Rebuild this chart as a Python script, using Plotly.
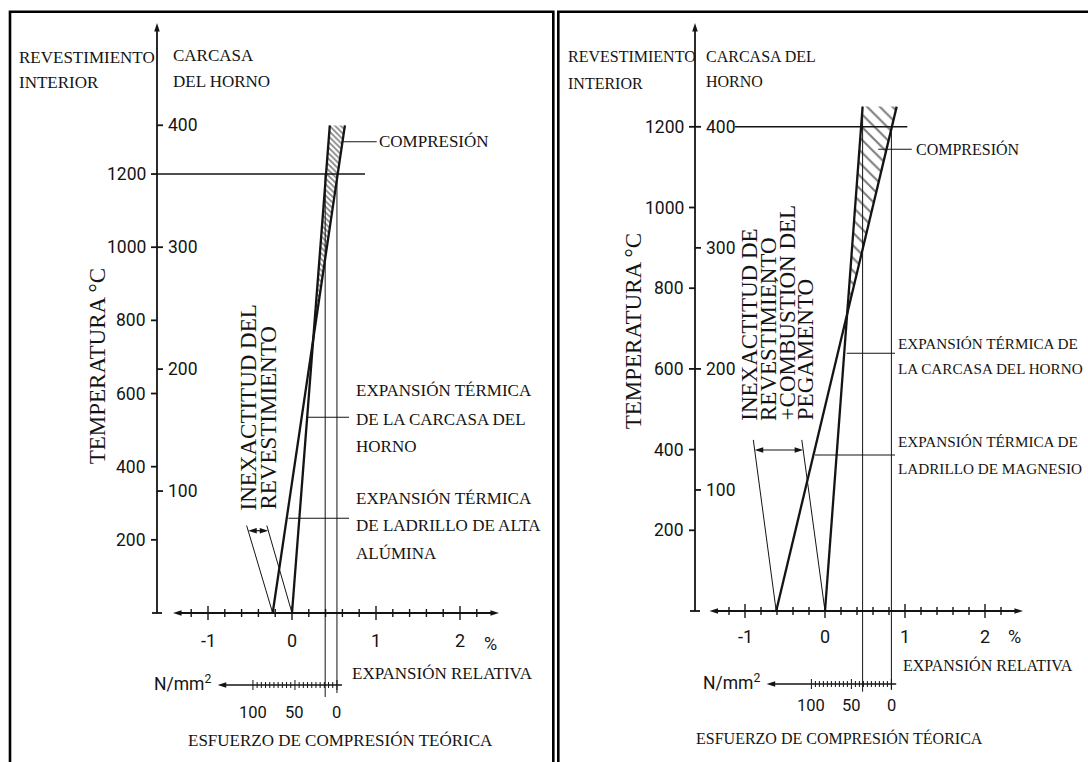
import plotly.graph_objects as go

FIG_W, FIG_H = 1088, 762
INK = "#141414"
SERIF = "Liberation Serif, Times New Roman, serif"
SANS = "Roboto, DejaVu Sans, sans-serif"

# ---------------- shared scales ----------------
EXP_TICKS = [-1, 0, 1, 2]
EXP_TICK_LABELS = ["-1", "0", "1", "2"]
EXP_MINOR = [-1.2, -0.8, -0.6, -0.4, -0.2, 0.2, 0.4, 0.6, 0.8, 1.2, 1.4, 1.6, 1.8, 2.2]
STRESS_TICKS = [100, 50, 0]
STRESS_TICK_LABELS = ["100", "50", "0"]
STRESS_MINOR = list(range(0, 101, 5))
STRESS_PER_PERCENT = 100          # N/mm² per 1 % of relative expansion

# ---------------- high-alumina lining (left) ----------------
A_LINING_TICKS = [200, 400, 600, 800, 1000, 1200]
A_SHELL_TICKS = [100, 200, 300, 400]
A_SHELL_SCALE = 10 / 3            # lining °C per shell °C on the common axis
A_OPERATING_T = 1200
A_TOP_T = 1333
A_SHELL_EXP = [0.0, 0.45]         # shell expansion at T = 0 and at A_TOP_T
A_BRICK_EXP = [-0.23, 0.63]       # brick expansion at T = 0 and at A_TOP_T
A_GAP_T = 239
A_GAP_EXP_TOP = [-0.54, -0.30]
A_GAP_ARROW_T = 225
A_VLINE_EXP = [0.395, 0.535]
A_VLINE_TOP = [1200, 1200]
A_STRESS_ZERO = 0.535

# ---------------- magnesia lining (right) ----------------
M_LINING_TICKS = [200, 400, 600, 800, 1000, 1200]
M_SHELL_TICKS = [100, 200, 300, 400]
M_SHELL_SCALE = 3
M_OPERATING_T = 1200
M_TOP_T = 1250
M_SHELL_EXP = [0.0, 0.47]
M_BRICK_EXP = [-0.61, 0.896]
M_GAP_T = 424
M_GAP_EXP_TOP = [-0.896, -0.29]
M_GAP_ARROW_T = 399
M_VLINE_EXP = [0.47, 0.83]
M_VLINE_TOP = [1250, 1200]
M_STRESS_ZERO = 0.83

PANELS = [
    dict(
        xa="x", ya="y", dom=(0.0, 0.5), x0px=292, kx=84, y0px=613, ky=0.3658,
        lining_ticks=A_LINING_TICKS, shell_ticks=A_SHELL_TICKS, shell_scale=A_SHELL_SCALE,
        op_T=A_OPERATING_T, top_T=A_TOP_T, shell=A_SHELL_EXP, brick=A_BRICK_EXP,
        gap_T=A_GAP_T, gap_top=A_GAP_EXP_TOP, gap_arrow_T=A_GAP_ARROW_T,
        vline=A_VLINE_EXP, vline_top=A_VLINE_TOP, stress_zero=A_STRESS_ZERO,
        axis_px=157, axis_top_px=23, exp_span_px=(173, 499), op_span_px=(157, 365),
        stress_px=685, stress_span=(142, -6), vline_bottom_px=(697, 693),
        tick_label_dy=27, stress_label_dy=27, hatch=4, hatch_solid=0.4, text_size=17,
        leaders=[(141.7, 341.7, 376.7), (417.3, 307.6, 349), (518.3, 288.5, 349)],
        texts=[
            ("REVESTIMIENTO", 18.3, 57.3, "left"), ("INTERIOR", 18.3, 82.5, "left"),
            ("CARCASA", 171.7, 55.5, "left"), ("DEL HORNO", 171.7, 81.7, "left"),
            ("COMPRESIÓN", 378, 141.7, "left"),
            ("EXPANSIÓN TÉRMICA", 354.5, 390, "left"),
            ("DE LA CARCASA DEL", 354.5, 419.3, "left"),
            ("HORNO", 354.5, 446.7, "left"),
            ("EXPANSIÓN TÉRMICA", 354.5, 498.3, "left"),
            ("DE LADRILLO DE ALTA", 354.5, 525, "left"),
            ("ALÚMINA", 354.5, 553.3, "left"),
            ("EXPANSIÓN RELATIVA", 351, 673.3, "left"),
            ("ESFUERZO DE COMPRESIÓN TEÓRICA", 340, 740, "center"),
        ],
        vtexts=[
            ("TEMPERATURA °C", 97.3, 366, "middle"),
            ("INEXACTITUD DEL", 247.5, 512, "bottom"),
            ("REVESTIMIENTO", 267.6, 511, "bottom"),
        ],
        pct=(490, 643),
    ),
    dict(
        xa="x2", ya="y2", dom=(0.5, 1.0), x0px=825, kx=80, y0px=611, ky=0.4035,
        lining_ticks=M_LINING_TICKS, shell_ticks=M_SHELL_TICKS, shell_scale=M_SHELL_SCALE,
        op_T=M_OPERATING_T, top_T=M_TOP_T, shell=M_SHELL_EXP, brick=M_BRICK_EXP,
        gap_T=M_GAP_T, gap_top=M_GAP_EXP_TOP, gap_arrow_T=M_GAP_ARROW_T,
        vline=M_VLINE_EXP, vline_top=M_VLINE_TOP, stress_zero=M_STRESS_ZERO,
        axis_px=695, axis_top_px=23, exp_span_px=(709.5, 1023), op_span_px=(735, 907.3),
        stress_px=684, stress_span=(156, -6), vline_bottom_px=(691.7, 690),
        tick_label_dy=25.7, stress_label_dy=21, hatch=9, hatch_solid=0.24, text_size=16,
        leaders=[(149.3, 878.3, 911.7), (353.3, 846.7, 895), (455, 815, 895)],
        texts=[
            ("REVESTIMIENTO", 566.7, 56.7, "left"), ("INTERIOR", 566.7, 83.3, "left"),
            ("CARCASA DEL", 705, 56.7, "left"), ("HORNO", 705, 81.7, "left"),
            ("COMPRESIÓN", 915, 149.3, "left"),
            ("EXPANSIÓN TÉRMICA DE", 896.7, 343.3, "left", 15.2),
            ("LA CARCASA DEL HORNO", 896.7, 368.3, "left", 15.2),
            ("EXPANSIÓN TÉRMICA DE", 896.7, 441.7, "left", 15.2),
            ("LADRILLO DE MAGNESIO", 896.7, 468.3, "left", 15.2),
            ("EXPANSIÓN RELATIVA", 901.6, 665, "left"),
            ("ESFUERZO DE COMPRESIÓN TÉORICA", 839, 738.3, "center"),
        ],
        vtexts=[
            ("TEMPERATURA °C", 633.3, 331, "middle"),
            ("INEXACTITUD DE", 750, 421.7, "bottom"),
            ("REVESTIMIENTO", 768.3, 421.7, "bottom"),
            ("+COMBUSTIÓN DEL", 786.7, 421.7, "bottom"),
            ("PEGAMENTO", 805, 421.7, "bottom"),
        ],
        pct=(1014, 636.7),
    ),
]

fig = go.Figure()


def px_x(g, px):
    return (px - g["x0px"]) / g["kx"]


def px_T(g, py):
    return (g["y0px"] - py) / g["ky"]


def add_line(g, xs, ys, width=1.0, color=INK):
    fig.add_trace(go.Scatter(x=xs, y=ys, mode="lines", line=dict(color=color, width=width),
                             xaxis=g["xa"], yaxis=g["ya"], hoverinfo="skip",
                             showlegend=False))


def add_heads(g, xs, ys, angles, size=9):
    # arrowheads drawn as markers whose tip sits on the given point
    fig.add_trace(go.Scatter(x=xs, y=ys, mode="markers",
                             marker=dict(symbol="arrow", size=size, angle=angles,
                                         color=INK, line=dict(width=0)),
                             xaxis=g["xa"], yaxis=g["ya"], hoverinfo="skip",
                             showlegend=False, cliponaxis=False))


def add_text(g, text, x, y, size, family, xanchor="left", yanchor="middle",
             angle=0, xshift=0, yshift=0):
    fig.add_annotation(x=x, y=y, xref=g["xa"], yref=g["ya"], text=text, showarrow=False,
                       xanchor=xanchor, yanchor=yanchor, textangle=angle,
                       xshift=xshift, yshift=yshift, borderpad=0,
                       font=dict(family=family, size=size, color=INK))


def interp(p0, p1, t0, t1, t):
    return p0 + (p1 - p0) * (t - t0) / (t1 - t0)


def build_panel(g):
    dx = 1.0 / g["kx"]
    dT = 1.0 / g["ky"]
    ax_x = px_x(g, g["axis_px"])
    top_T = g["top_T"]
    hx, hy, ha = [], [], []

    # compression wedge between brick and shell expansion lines
    s0, s1 = g["shell"]
    b0, b1 = g["brick"]
    t_cross = (s0 - b0) / ((b1 - b0) - (s1 - s0))
    x_cross = s0 + (s1 - s0) * t_cross
    fig.add_trace(go.Scatter(
        x=[x_cross, s1, b1, x_cross], y=[t_cross * top_T, top_T, top_T, t_cross * top_T],
        mode="lines", fill="toself", fillcolor="rgba(0,0,0,0)", line=dict(width=0),
        fillpattern=dict(shape="\\", size=g["hatch"], solidity=g["hatch_solid"],
                         fgcolor="#000000", bgcolor="rgba(0,0,0,0)"),
        xaxis=g["xa"], yaxis=g["ya"], hoverinfo="skip", showlegend=False))

    # temperature axis with both scales
    axis_top = px_T(g, g["axis_top_px"])
    add_line(g, [ax_x, ax_x], [0, axis_top - 4 * dT], width=1.8)
    hx.append(ax_x); hy.append(axis_top); ha.append(0)
    xs, ys = [], []
    for t in g["lining_ticks"]:
        xs += [ax_x - 6 * dx, ax_x, None]
        ys += [t, t, None]
    xs += [ax_x - 5 * dx, ax_x + 5 * dx, None]
    ys += [0, 0, None]
    for c in g["shell_ticks"]:
        T = c * g["shell_scale"]
        xs += [ax_x, ax_x + 6 * dx, None]
        ys += [T, T, None]
    add_line(g, xs, ys, width=1.8)
    for t in g["lining_ticks"]:
        add_text(g, str(t), ax_x, t, 17.5, SANS, xanchor="right", xshift=-10)
    for c in g["shell_ticks"]:
        add_text(g, str(c), ax_x, c * g["shell_scale"], 17.5, SANS, xanchor="left", xshift=10)

    # relative expansion axis
    e0, e1 = px_x(g, g["exp_span_px"][0]), px_x(g, g["exp_span_px"][1])
    add_line(g, [e0 + 4 * dx, e1 - 4 * dx], [0, 0], width=1.9)
    hx += [e0, e1]; hy += [0, 0]; ha += [270, 90]
    xs, ys = [], []
    for v in EXP_TICKS:
        xs += [v, v, None]
        ys += [-7 * dT, 7 * dT, None]
    for v in EXP_MINOR:
        xs += [v, v, None]
        ys += [-4 * dT, 4 * dT, None]
    add_line(g, xs, ys, width=1.4)
    for v, lab in zip(EXP_TICKS, EXP_TICK_LABELS):
        add_text(g, lab, v, 0, 18, SANS, xanchor="center", yshift=-g["tick_label_dy"])
    add_text(g, "%", px_x(g, g["pct"][0]), px_T(g, g["pct"][1]), 18, SANS, xanchor="center")

    # operating temperature line
    o0, o1 = px_x(g, g["op_span_px"][0]), px_x(g, g["op_span_px"][1])
    add_line(g, [o0, o1], [g["op_T"], g["op_T"]], width=1.6)

    # tolerance lines of the lining and their dimension arrow
    add_line(g, [b0, g["gap_top"][0]], [0, g["gap_T"]], width=1.0)
    add_line(g, [s0, g["gap_top"][1]], [0, g["gap_T"]], width=1.0)
    ga = interp(b0, g["gap_top"][0], 0, g["gap_T"], g["gap_arrow_T"])
    gb = interp(s0, g["gap_top"][1], 0, g["gap_T"], g["gap_arrow_T"])
    add_line(g, [ga + 3 * dx, gb - 3 * dx], [g["gap_arrow_T"]] * 2, width=1.2)
    hx += [ga, gb]; hy += [g["gap_arrow_T"]] * 2; ha += [270, 90]

    # expansion lines of shell and brick
    add_line(g, [s0, s1], [0, top_T], width=2.3)
    add_line(g, [b0, b1], [0, top_T], width=2.3)

    # stress scale
    sT = px_T(g, g["stress_px"])
    z = g["stress_zero"]
    n0, n1 = g["stress_span"]
    tip = z - n0 / STRESS_PER_PERCENT
    add_line(g, [tip + 4 * dx, z - n1 / STRESS_PER_PERCENT], [sT, sT], width=1.5)
    hx.append(tip); hy.append(sT); ha.append(270)
    xs, ys = [], []
    for n in STRESS_MINOR:
        h = 5 if n in STRESS_TICKS else 3
        xs += [z - n / STRESS_PER_PERCENT] * 2 + [None]
        ys += [sT - h * dT, sT + h * dT, None]
    add_line(g, xs, ys, width=1.0)
    for n, lab in zip(STRESS_TICKS, STRESS_TICK_LABELS):
        add_text(g, lab, z - n / STRESS_PER_PERCENT, sT, 16.5, SANS, xanchor="center",
                 yshift=-g["stress_label_dy"])
    add_text(g, "N/mm<sup>2</sup>", tip, sT, 17.5, SANS, xanchor="right", xshift=-6, yshift=2)

    # projections down to the stress scale
    for v, t, bpx in zip(g["vline"], g["vline_top"], g["vline_bottom_px"]):
        add_line(g, [v, v], [t, px_T(g, bpx)], width=1.0)

    # leader lines
    for ly, lx0, lx1 in g["leaders"]:
        add_line(g, [px_x(g, lx0), px_x(g, lx1)], [px_T(g, ly)] * 2, width=1.1)

    add_heads(g, hx, hy, ha)

    for item in g["texts"]:
        text, tx, ty, anchor = item[:4]
        size = item[4] if len(item) > 4 else g["text_size"]
        add_text(g, text, px_x(g, tx), px_T(g, ty), size, SERIF, xanchor=anchor)
    for text, tx, ty, anchor in g["vtexts"]:
        add_text(g, text, px_x(g, tx), px_T(g, ty), 23, SERIF, xanchor="center",
                 yanchor=anchor, angle=-90)


for g in PANELS:
    build_panel(g)

layout_axes = {}
for i, g in enumerate(PANELS):
    suffix = "" if i == 0 else str(i + 1)
    d0, d1 = g["dom"]
    x_lo = (d0 * FIG_W - g["x0px"]) / g["kx"]
    x_hi = (d1 * FIG_W - g["x0px"]) / g["kx"]
    y_lo = -(FIG_H - g["y0px"]) / g["ky"]
    y_hi = g["y0px"] / g["ky"]
    layout_axes["xaxis" + suffix] = dict(domain=[d0, d1], range=[x_lo, x_hi], visible=False,
                                         anchor="y" + suffix, fixedrange=True)
    layout_axes["yaxis" + suffix] = dict(domain=[0, 1], range=[y_lo, y_hi], visible=False,
                                         anchor="x" + suffix, fixedrange=True)

# panel frames (open at the bottom edge of the page)
frames = [(10, 553.3, 11.7), (558.3, 1100, 11.7)]
shapes = []
for x0, x1, y0 in frames:
    shapes.append(dict(type="rect", xref="paper", yref="paper",
                       x0=x0 / FIG_W, x1=x1 / FIG_W, y0=-0.05, y1=1 - y0 / FIG_H,
                       line=dict(color="#000", width=2.6), fillcolor="rgba(0,0,0,0)",
                       layer="below"))

fig.update_layout(
    width=FIG_W, height=FIG_H, autosize=False,
    margin=dict(l=0, r=0, t=0, b=0),
    paper_bgcolor="white", plot_bgcolor="white",
    showlegend=False, shapes=shapes, **layout_axes,
)

fig.write_html("out.html", config={"displayModeBar": False})
